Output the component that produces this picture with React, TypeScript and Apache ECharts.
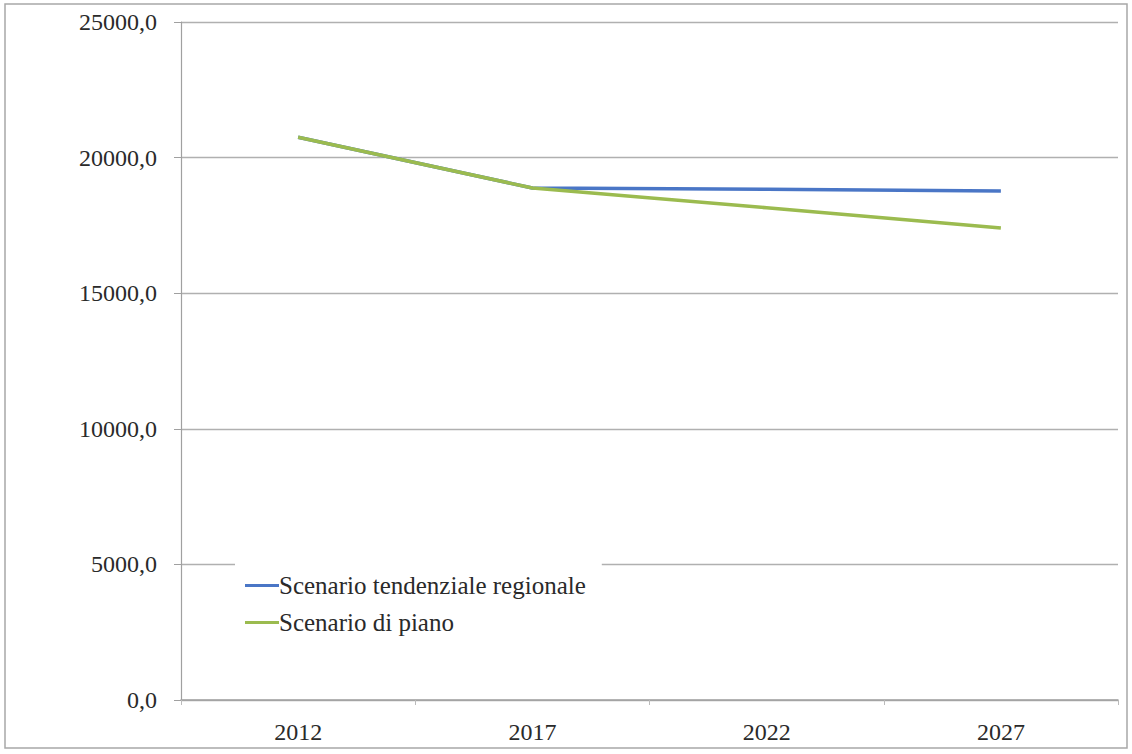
import React, { useEffect, useRef } from "react";
import * as echarts from "echarts";

const categories = ["2012", "2017", "2022", "2027"];
const tendenziale = [20750, 18880, 18830, 18770];
const piano = [20750, 18880, 18150, 17400];
const seriesNames = ["Scenario tendenziale regionale", "Scenario di piano"];

const FONT = "Liberation Serif";

export default function App() {
  const ref = useRef<HTMLDivElement>(null);
  useEffect(() => {
    const chart = echarts.init(ref.current!, null, { renderer: "svg" });
    chart.setOption({
      animation: false,
      backgroundColor: "#ffffff",
      graphic: [
        {
          type: "rect",
          shape: { x: 5, y: 4, width: 1122, height: 744 },
          style: { fill: "none", stroke: "#a8a8a8", lineWidth: 1.5 },
          silent: true,
          z: -1,
        },
      ],
      grid: { left: 181, right: 14, top: 22, bottom: 54, containLabel: false },
      legend: {
        orient: "vertical",
        left: 235,
        top: 563,
        padding: [10, 16, 10, 10],
        backgroundColor: "#ffffff",
        itemWidth: 34,
        itemHeight: 3,
        itemGap: 12,
        icon: "rect",
        textStyle: { fontFamily: FONT, fontSize: 25, color: "#2a2a2a", lineHeight: 24, padding: [0, 0, 0, -5] },
        data: seriesNames,
      },
      xAxis: {
        type: "category",
        data: categories,
        boundaryGap: true,
        axisLine: { lineStyle: { color: "#a0a0a0", width: 1.5 } },
        axisTick: { show: true, length: 5, lineStyle: { color: "#bbb" } },
        axisLabel: { fontFamily: FONT, fontSize: 24, color: "#2a2a2a", margin: 20 },
      },
      yAxis: {
        type: "value",
        min: 0,
        max: 25000,
        interval: 5000,
        axisLine: { show: true, lineStyle: { color: "#a0a0a0", width: 1.2 } },
        axisTick: { show: true, length: 7, lineStyle: { color: "#a0a0a0" } },
        splitLine: { lineStyle: { color: "#b0b0b0", width: 1.3 } },
        axisLabel: {
          fontFamily: FONT,
          fontSize: 24,
          color: "#2a2a2a",
          margin: 24,
          formatter: (v: number) => v.toFixed(1).replace(".", ","),
        },
      },
      series: [
        {
          name: seriesNames[0],
          type: "line",
          data: tendenziale,
          symbol: "none",
          lineStyle: { color: "#4a76c6", width: 3.5 },
          itemStyle: { color: "#4a76c6" },
        },
        {
          name: seriesNames[1],
          type: "line",
          data: piano,
          symbol: "none",
          lineStyle: { color: "#9bbb4f", width: 3.5 },
          itemStyle: { color: "#9bbb4f" },
        },
      ],
    });
    return () => chart.dispose();
  }, []);
  return (
    <div
      ref={ref}
      style={{ position: "fixed", left: 0, top: 0, width: 1132, height: 754 }}
    />
  );
}
